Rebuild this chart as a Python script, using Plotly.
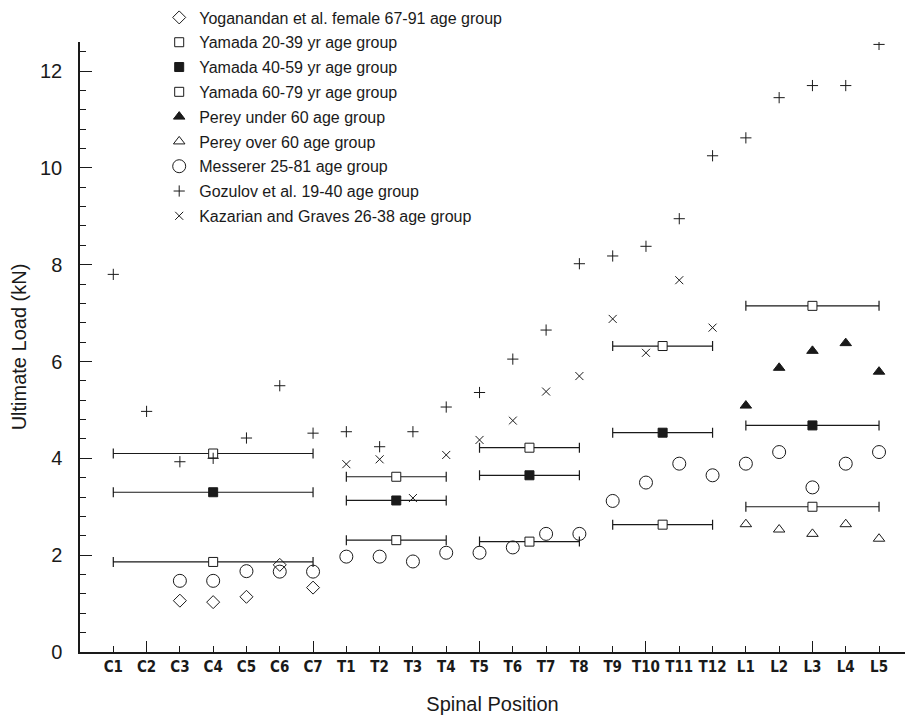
import plotly.graph_objects as go

positions = ["C1", "C2", "C3", "C4", "C5", "C6", "C7",
             "T1", "T2", "T3", "T4", "T5", "T6", "T7", "T8", "T9", "T10", "T11", "T12",
             "L1", "L2", "L3", "L4", "L5"]

yoganandan = {"C3": 1.06, "C4": 1.03, "C5": 1.14, "C6": 1.80, "C7": 1.33}
perey_under60 = {"L1": 5.09, "L2": 5.87, "L3": 6.22, "L4": 6.38, "L5": 5.79}
perey_over60 = {"L1": 2.64, "L2": 2.53, "L3": 2.44, "L4": 2.64, "L5": 2.34}
messerer = {"C3": 1.47, "C4": 1.47, "C5": 1.67, "C6": 1.66, "C7": 1.66,
            "T1": 1.97, "T2": 1.97, "T3": 1.87, "T4": 2.05, "T5": 2.05, "T6": 2.16,
            "T7": 2.44, "T8": 2.44, "T9": 3.12, "T10": 3.50, "T11": 3.89, "T12": 3.65,
            "L1": 3.89, "L2": 4.13, "L3": 3.40, "L4": 3.89, "L5": 4.13}
gozulov = {"C1": 7.80, "C2": 4.97, "C3": 3.93, "C4": 4.00, "C5": 4.42, "C6": 5.50,
           "C7": 4.52, "T1": 4.55, "T2": 4.24, "T3": 4.55, "T4": 5.06, "T5": 5.36,
           "T6": 6.05, "T7": 6.65, "T8": 8.02, "T9": 8.18, "T10": 8.38, "T11": 8.95,
           "T12": 10.25, "L1": 10.62, "L2": 11.45, "L3": 11.70, "L4": 11.70, "L5": 12.55}
kazarian = {"T1": 3.88, "T2": 3.98, "T3": 3.18, "T4": 4.07, "T5": 4.38, "T6": 4.78,
            "T7": 5.38, "T8": 5.70, "T9": 6.88, "T10": 6.18, "T11": 7.68, "T12": 6.70}

# Yamada: value per spinal region, region spans first..last position
yamada_regions = [("C1", "C7"), ("T1", "T4"), ("T5", "T8"), ("T9", "T12"), ("L1", "L5")]
yamada_20_39 = [4.10, 3.62, 4.22, 6.32, 7.15]
yamada_40_59 = [3.30, 3.13, 3.65, 4.53, 4.68]
yamada_60_79 = [1.86, 2.31, 2.28, 2.63, 3.00]

idx = {p: i + 1 for i, p in enumerate(positions)}
INK = "#1a1a1a"


def xy(d):
    return [idx[k] for k in d], list(d.values())


fig = go.Figure()

reg_mid = [(idx[a] + idx[b]) / 2 for a, b in yamada_regions]
reg_half = [(idx[b] - idx[a]) / 2 for a, b in yamada_regions]


def add_points(name, d, symbol, size, lw=1.0):
    x, y = xy(d)
    fig.add_trace(go.Scatter(
        x=x, y=y, mode="markers", name=name, legendgroup=name,
        marker=dict(symbol=symbol, size=size, color=INK,
                    line=dict(color=INK, width=lw)),
    ))


def add_yamada(name, vals, symbol, fill):
    fig.add_trace(go.Scatter(
        x=reg_mid, y=vals, mode="markers", name=name, legendgroup=name,
        marker=dict(symbol=symbol, size=9, color=fill, line=dict(color=INK, width=1)),
        error_x=dict(type="data", array=reg_half, visible=True, color=INK,
                     thickness=1.2, width=5),
    ))


add_points("Yoganandan et al. female 67-91 age group", yoganandan, "diamond-open", 10)
add_yamada("Yamada 20-39 yr age group", yamada_20_39, "square", "white")
add_yamada("Yamada 40-59 yr age group", yamada_40_59, "square", INK)
add_yamada("Yamada 60-79 yr age group", yamada_60_79, "square", "white")
add_points("Perey under 60 age group", perey_under60, "triangle-up", 10)
add_points("Perey over 60 age group", perey_over60, "triangle-up-open", 10)
add_points("Messerer 25-81 age group", messerer, "circle-open", 13)
add_points("Gozulov et al. 19-40 age group", gozulov, "cross-thin-open", 8)
add_points("Kazarian and Graves 26-38 age group", kazarian, "x-thin-open", 8)

# second overlaid x-axis carrying the longer ticks every fifth position
fig.add_trace(go.Scatter(x=[None], y=[None], xaxis="x2", showlegend=False,
                         hoverinfo="skip"))

fig.update_layout(
    width=905, height=721,
    margin=dict(l=80, r=0, t=42, b=69),
    paper_bgcolor="white", plot_bgcolor="white",
    font=dict(family="Liberation Sans, Arial, sans-serif", color=INK),
    showlegend=True,
    legend=dict(x=0.096, y=1.068, xanchor="left", yanchor="top",
                font=dict(size=16, color=INK), bgcolor="rgba(0,0,0,0)",
                tracegroupgap=1, itemsizing="trace"),
    xaxis=dict(range=[0, 24.78], showgrid=False, zeroline=False,
               showline=True, linecolor=INK, linewidth=1.5,
               tickmode="array", tickvals=list(range(1, len(positions) + 1)),
               ticktext=positions, ticks="inside", ticklen=6, tickwidth=1,
               tickcolor=INK,
               tickfont=dict(family="Liberation Sans Narrow, DejaVu Sans Condensed, Arial Narrow, sans-serif",
                             size=15, weight="bold", color=INK),
               title=dict(text="Spinal Position", font=dict(size=20, color=INK),
                          standoff=22)),
    xaxis2=dict(overlaying="x", matches="x", anchor="y", side="bottom",
                range=[0, 24.78], showgrid=False, zeroline=False, showline=False,
                tickmode="array", tickvals=[2, 7, 12, 17, 22],
                ticks="inside", ticklen=11, tickwidth=1, tickcolor=INK,
                showticklabels=False),
    yaxis=dict(range=[0, 12.6], showgrid=False, zeroline=False,
               showline=True, linecolor=INK, linewidth=1.5,
               tickmode="linear", tick0=0, dtick=2,
               ticks="inside", ticklen=12, tickwidth=1, tickcolor=INK,
               minor=dict(dtick=0.4, tick0=0, ticks="inside", ticklen=6,
                          tickwidth=1, tickcolor=INK),
               ticklabelstandoff=12,
               tickfont=dict(size=20, color=INK),
               title=dict(text="Ultimate Load (kN)", font=dict(size=20, color=INK),
                          standoff=8)),
)

fig.write_html("out.html")
